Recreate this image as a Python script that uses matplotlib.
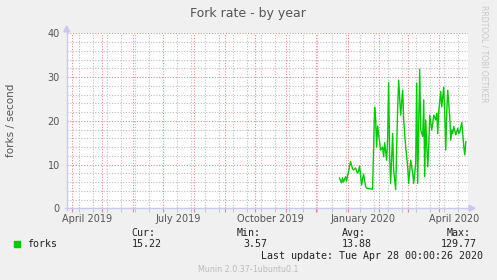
import numpy as np
import pandas as pd
import matplotlib
matplotlib.use("Agg")
import matplotlib.pyplot as plt
import matplotlib.dates as mdates

## data
start = pd.Timestamp("2019-12-24")
days = [0, 2, 3, 4, 6, 7, 8, 9, 11, 13, 14, 16, 18, 19, 20, 22, 23, 24, 26, 27,
        29, 33, 35, 36, 37, 38, 41, 43, 44, 45, 47, 48, 49, 50, 51, 53, 54, 56,
        58, 59, 61, 63, 64, 66, 68, 69, 71, 73, 74, 76, 77, 78, 80, 81, 83, 84,
        85, 86, 88, 89, 90, 92, 93, 94, 96, 97, 98, 99, 101, 102, 104, 105, 106,
        107, 108, 110, 111, 112, 113, 114, 116, 118, 119, 120, 122, 124, 125, 126]
forks = [6.9, 5.8, 7.0, 6.0, 7.2, 6.2, 7.5, 8.4, 10.7, 9.0, 8.8, 9.2, 8.0, 8.6,
         9.7, 5.3, 6.8, 7.8, 5.0, 4.6, 4.5, 4.4, 23.1, 20.5, 14.0, 18.8, 13.3,
         14.0, 11.8, 15.0, 11.0, 16.0, 28.7, 12.0, 5.7, 17.1, 8.8, 4.3, 22.9,
         29.3, 21.3, 27.0, 20.2, 14.1, 9.5, 5.7, 11.0, 8.0, 5.7, 10.3, 28.6, 5.7,
         31.8, 17.9, 16.4, 24.8, 7.2, 20.2, 9.5, 14.0, 21.3, 17.9, 19.4, 21.3,
         20.2, 21.7, 17.1, 22.1, 26.7, 23.2, 27.7, 21.7, 13.3, 22.1, 27.0, 20.9,
         15.6, 17.9, 17.1, 18.7, 16.8, 18.3, 17.1, 17.5, 19.6, 14.1, 12.2, 15.2]
dates = [start + pd.Timedelta(days=d) for d in days]

tick_labels = ["April 2019", "July 2019", "October 2019", "January 2020", "April 2020"]
label_dates = ["2019-04-16", "2019-07-16", "2019-10-16", "2020-01-16", "2020-04-16"]

stat_names = ["Cur:", "Min:", "Avg:", "Max:"]
stat_values = ["15.22", "3.57", "13.88", "129.77"]

W, H = 497, 280

def fx(x):
    return x / W

def fy(y):
    return 1 - y / H

fig = plt.figure(figsize=(W / 100, H / 100), dpi=100, facecolor="#F0F0F0")
left, right, top, bottom = 66.7, 468.3, 33.3, 208.3
ax = fig.add_axes([fx(left), fy(bottom), fx(right - left), (bottom - top) / H])
ax.set_facecolor("white")

ax.plot(dates, forks, color="#00CC00", lw=1.0, zorder=3)

ax.set_xlim(pd.Timestamp("2019-03-26 17:00"), pd.Timestamp("2020-04-30 12:00"))
ax.set_ylim(0, 40)

# grid
ax.xaxis.set_major_locator(mdates.MonthLocator())
minor = pd.date_range("2019-04-08", "2020-05-01", freq="14D")
ax.set_xticks(minor, minor=True)
ax.set_yticks([0, 10, 20, 30, 40])
ax.set_yticks(np.arange(0, 41, 2), minor=True)
ax.grid(which="minor", color="#BEBEBE", lw=0.8, ls=(0, (1, 1.5)), zorder=1)
ax.grid(which="major", color="#EE8888", lw=0.8, ls=(0, (1, 1.5)), zorder=2)
ax.tick_params(axis="x", which="major", length=3, color="#EE8888", labelbottom=False)
ax.tick_params(axis="x", which="minor", length=3, color="#BEBEBE")
ax.tick_params(axis="y", which="both", length=0, labelsize=7, labelcolor="#555555", pad=5)
for s in ax.spines.values():
    s.set_visible(False)

# axis lines with arrows
ax_col = "#C8C8F0"
fig.add_artist(plt.Line2D([fx(left), fx(left)], [fy(bottom + 2), fy(31)], color=ax_col, lw=1))
fig.add_artist(plt.Line2D([fx(left - 2), fx(470)], [fy(bottom), fy(bottom)], color=ax_col, lw=1))
fig.add_artist(plt.Polygon([(fx(left - 3), fy(32)), (fx(left + 3), fy(32)), (fx(left), fy(26))],
                           closed=True, color=ax_col, transform=fig.transFigure))
fig.add_artist(plt.Polygon([(fx(469), fy(bottom - 3)), (fx(469), fy(bottom + 3)), (fx(475), fy(bottom))],
                           closed=True, color=ax_col, transform=fig.transFigure))

for lab, d in zip(tick_labels, label_dates):
    ax.text(pd.Timestamp(d), -0.035, lab, transform=ax.get_xaxis_transform(),
            ha="center", va="top", fontsize=7, color="#555555")

# texts
fig.text(fx(248), fy(13), "Fork rate - by year", ha="center", va="center", fontsize=9, color="#555555")
fig.text(fx(11), fy(120), "forks / second", rotation=90, ha="center", va="center", fontsize=7.5, color="#555555")
fig.text(fx(484), fy(5), "RRDTOOL / TOBI OETIKER", rotation=270, ha="center", va="top", fontsize=5.5, color="#C8C8C8")

mono = dict(family="DejaVu Sans Mono", fontsize=7.2, color="#222222")
fig.add_artist(plt.Rectangle((fx(14), fy(247)), 6 / W, 6 / H, color="#00CC00", transform=fig.transFigure))
fig.text(fx(27), fy(244), "forks", ha="left", va="center", **mono)
name_x = [131.7, 237, 342, 447]
val_x = [131.7, 243, 342, 441]
for n, v, nx, vx in zip(stat_names, stat_values, name_x, val_x):
    fig.text(fx(nx), fy(233), n, ha="left", va="center", **mono)
    fig.text(fx(vx), fy(244), v, ha="left", va="center", **mono)
fig.text(fx(483), fy(256), "Last update: Tue Apr 28 00:00:26 2020", ha="right", va="center", **mono)
fig.text(fx(248), fy(269), "Munin 2.0.37-1ubuntu0.1", ha="center", va="center", fontsize=5.8, color="#BBBBBB")

fig.savefig("out.png", dpi=100, facecolor=fig.get_facecolor())
